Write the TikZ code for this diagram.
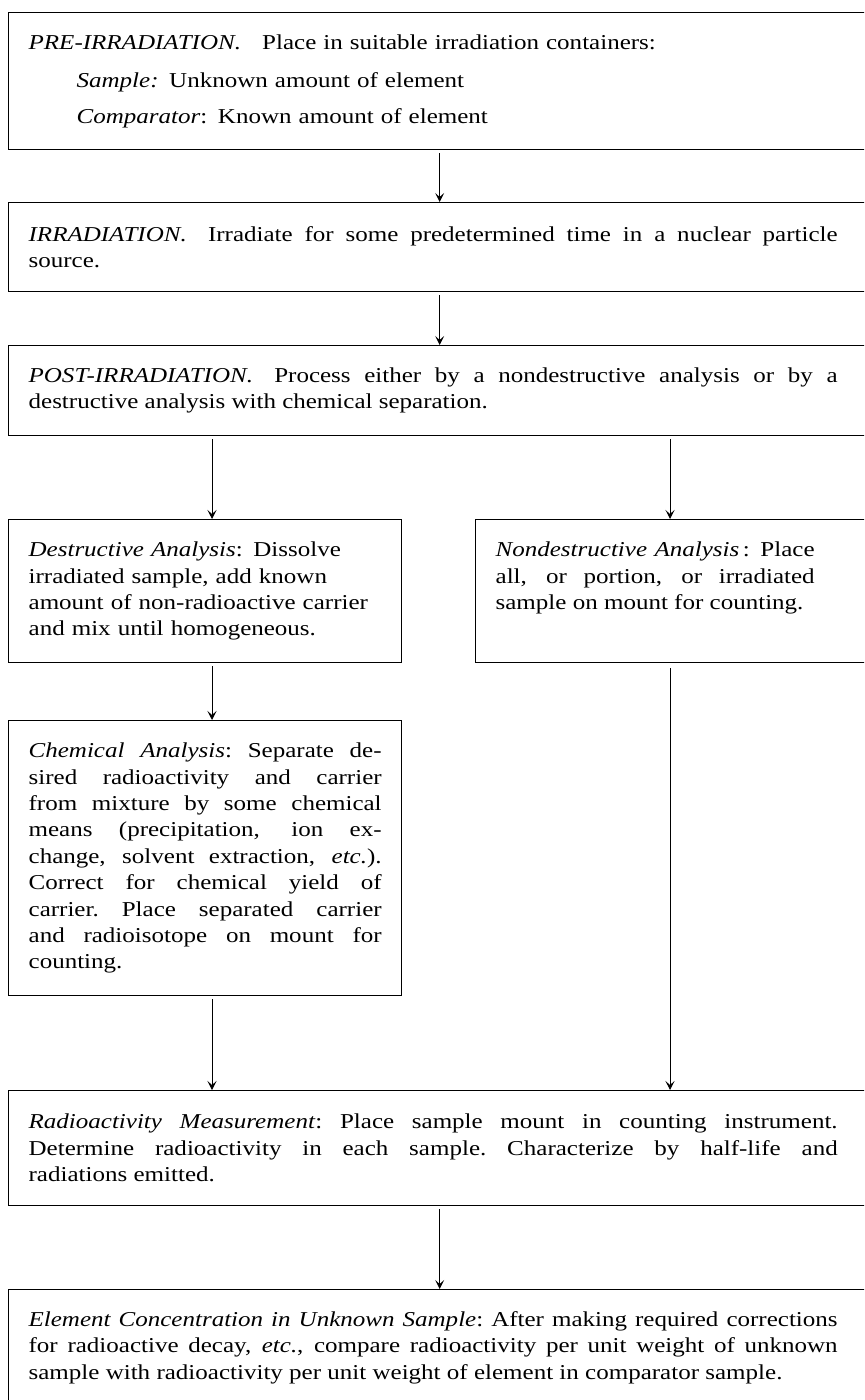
\documentclass[tikz,border=0pt]{standalone}
\usepackage{fontspec}
\setmainfont{Liberation Serif}[FakeStretch=1.18]
\usetikzlibrary{arrows.meta}
\tikzset{
  stage/.style={draw,line width=0.65pt,anchor=north west,inner xsep=10pt,inner ysep=0pt,
    font=\fontsize{10.6pt}{13.2pt}\selectfont},
  wide/.style={stage,text width=411pt},
  half/.style={stage,text width=176.5pt},
  justed/.style={align=justify,execute at begin node={\rightskip=#1\relax}},
  flow/.style={line width=0.5pt,-{Stealth[length=4.5pt,width=4.5pt,inset=2pt]},shorten <=1.5pt}
}

\begin{document}
\begin{tikzpicture}[x=0.5pt,y=-0.5pt]
      \useasboundingbox (0,0) rectangle (864,1400);
      \clip (0,0) rectangle (864,1400);
      \node[wide,minimum height=68.5pt] (pre) at (8,12) {\textit{PRE-IRRADIATION.}\quad Place in suitable irradiation containers:\\[6pt]
        \hspace*{24pt}\textit{Sample:} Unknown amount of element\\[4.5pt]
        \hspace*{24pt}\textit{Comparator}: Known amount of element};
      \node[wide,justed=6.5pt,minimum height=44.5pt] (irr) at (8,202) {\textit{IRRADIATION.}\quad Irradiate for some predetermined time in a nuclear particle \linebreak source.};
      \node[wide,justed=6.5pt,minimum height=45pt] (post) at (8,345) {\textit{POST-IRRADIATION.}\quad Process either by a nondestructive analysis or by a \linebreak destructive analysis with chemical separation.};
      \node[half,minimum height=71.5pt] (destr) at (8,519) {\textit{Destructive Analysis}: Dissolve\\
        irradiated sample, add known\\
        amount of non-radioactive carrier\\
        and mix until homogeneous.};
      \node[stage,text width=177.5pt,justed=18pt,minimum height=71.5pt,text depth=41.8pt] (nondestr) at (475,519) {\textit{Nondestructive Analysis}\,: Place \linebreak all, or portion, or irradiated \linebreak sample on mount for counting.};
      \node[half,justed=0pt,minimum height=137.5pt] (chem) at (8,720) {\textit{Chemical Analysis}:\ Separate de-\linebreak sired radioactivity and carrier \linebreak from mixture by some chemical \linebreak means (precipitation, ion ex-\linebreak change, solvent extraction, \textit{etc.}). \linebreak Correct for chemical yield of \linebreak carrier.\ Place separated carrier \linebreak and radioisotope on mount for \linebreak counting.};
      \node[wide,justed=6.5pt,minimum height=57.5pt] (meas) at (8,1090) {\textit{Radioactivity Measurement}:\ Place sample mount in counting instrument. \linebreak Determine radioactivity in each sample.\ Characterize by half-life and \linebreak radiations emitted.};
      \node[wide,justed=6.5pt,minimum height=58pt] (elem) at (8,1289) {\textit{Element Concentration in Unknown Sample}:\ After making required corrections \linebreak for radioactive decay, \textit{etc.}, compare radioactivity per unit weight of unknown \linebreak sample with radioactivity per unit weight of element in comparator sample.};
      \coordinate (lcol) at (212,0);
      \coordinate (rcol) at (670,0);
      \draw[flow] (pre) -- (irr);
      \draw[flow] (irr) -- (post);
      \draw[flow] (post.south -| lcol) -- (destr.north -| lcol);
      \draw[flow] (post.south -| rcol) -- (nondestr.north -| rcol);
      \draw[flow] (destr.south -| lcol) -- (chem.north -| lcol);
      \draw[flow] (chem.south -| lcol) -- (meas.north -| lcol);
      \draw[flow,shorten <=2.5pt] (nondestr.south -| rcol) -- (meas.north -| rcol);
      \draw[flow] (meas) -- (elem);
    \end{tikzpicture}
\end{document}
